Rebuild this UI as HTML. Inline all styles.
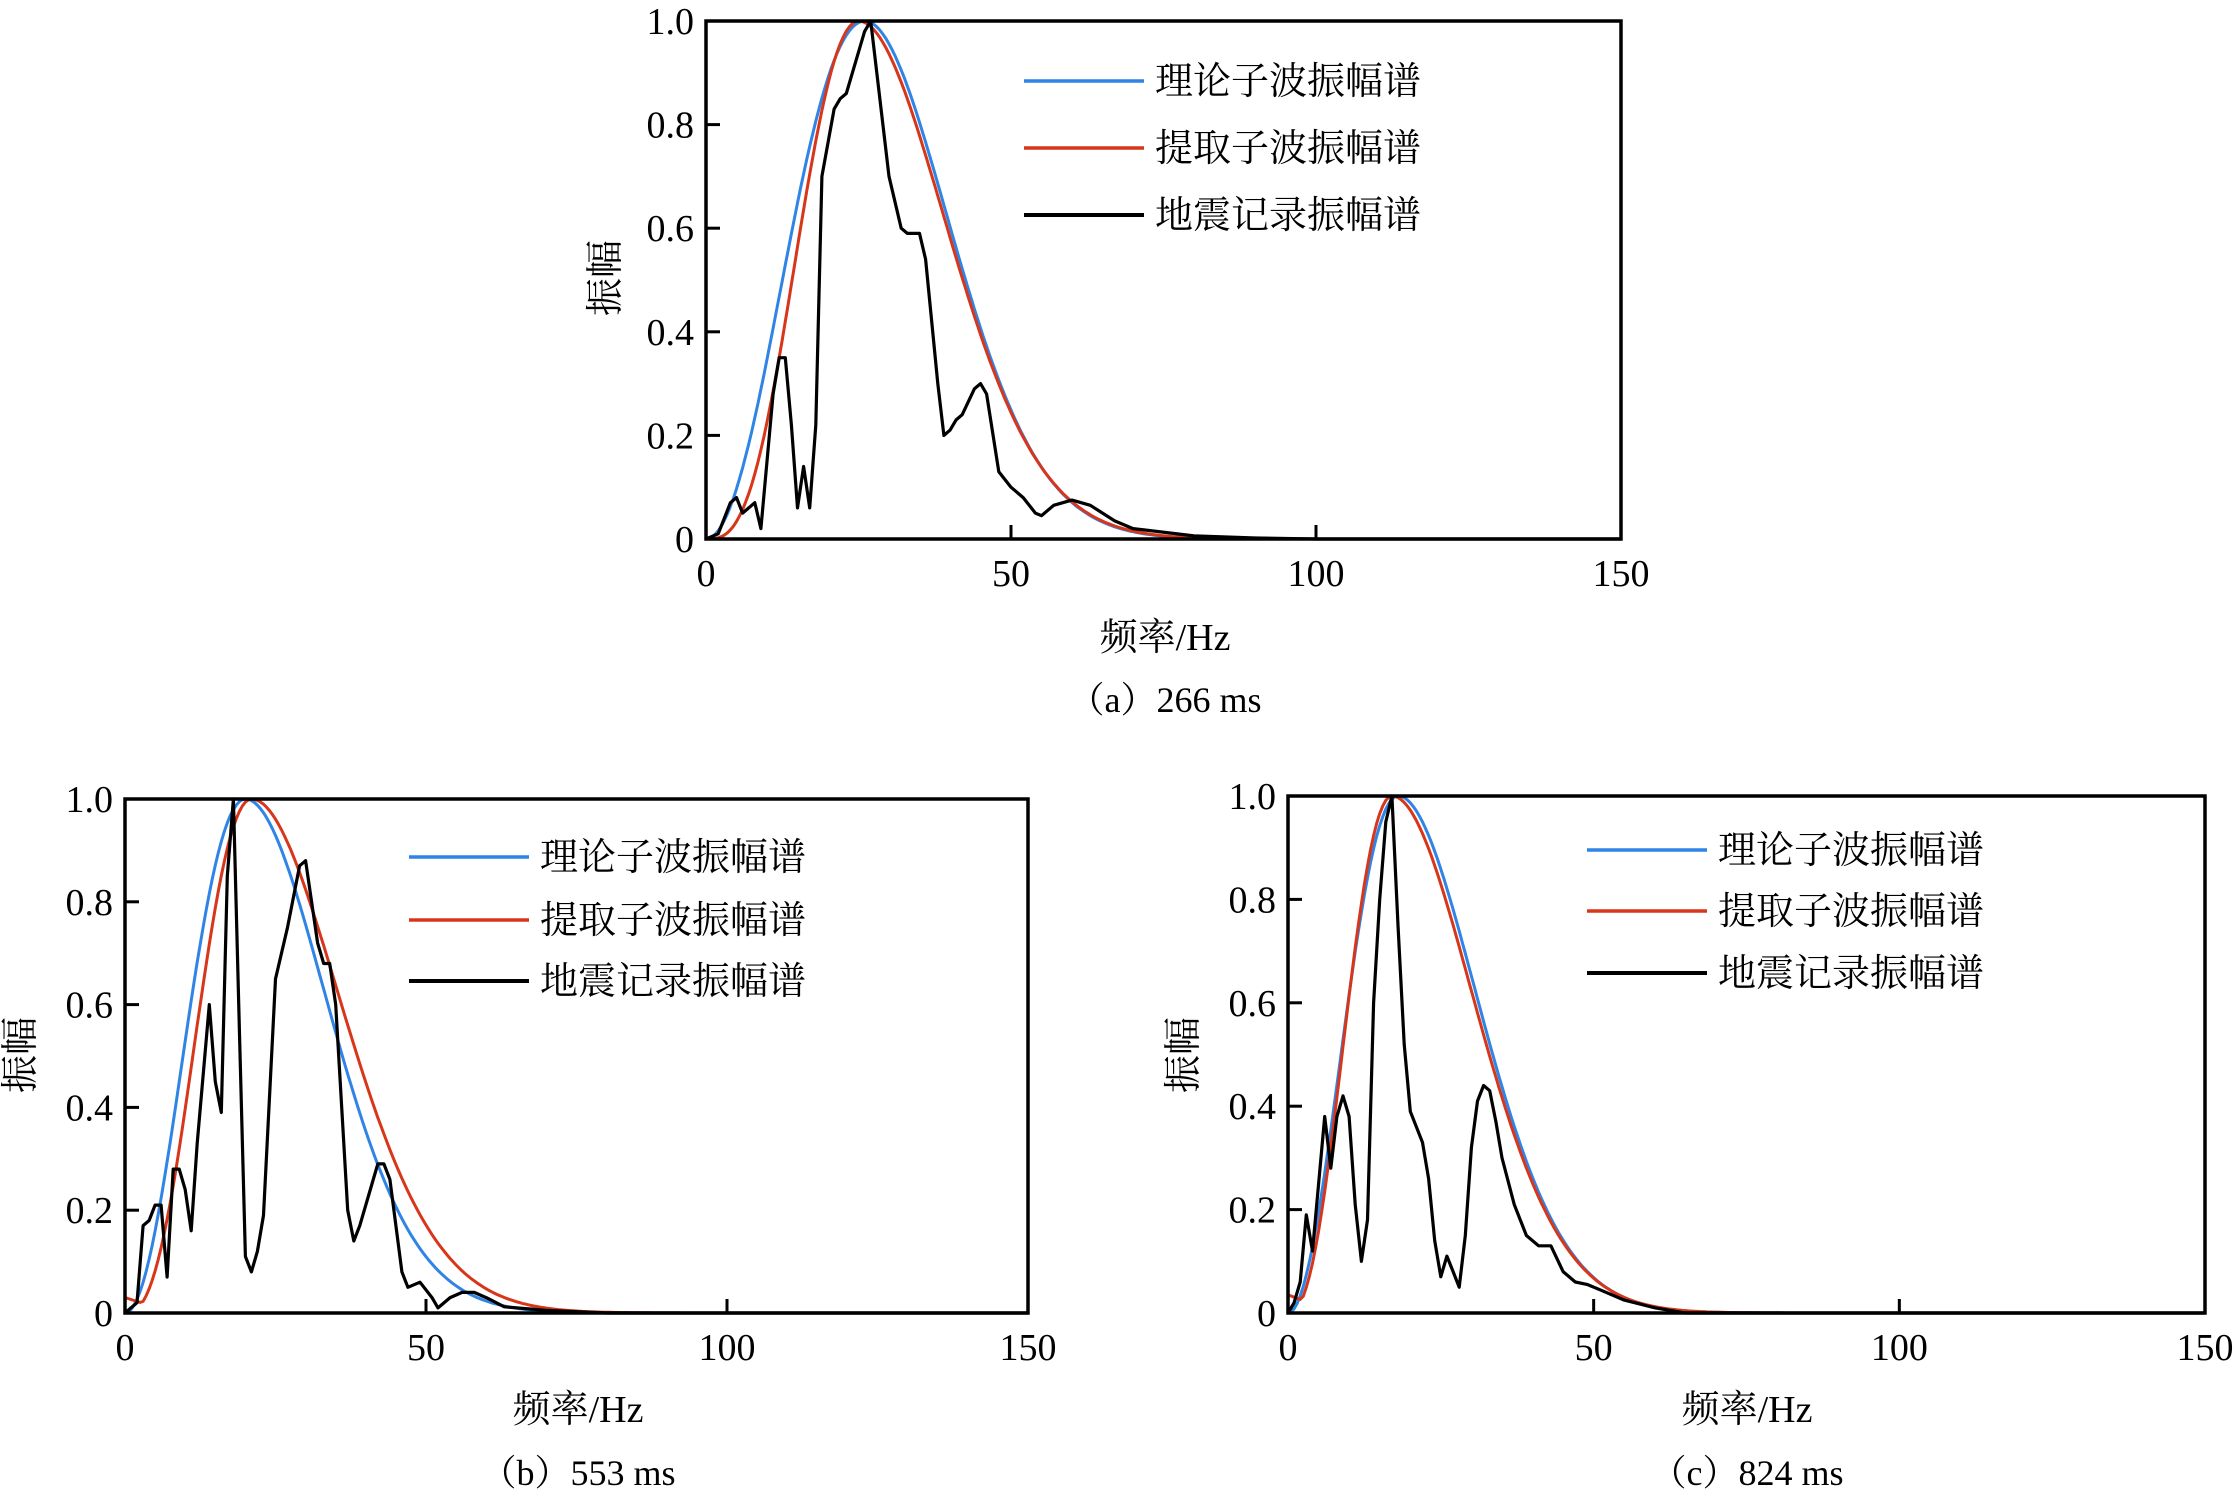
<!DOCTYPE html>
<html><head><meta charset="utf-8">
<style>
html,body{margin:0;padding:0;background:#fff;}
svg{display:block;}
text{font-family:"Liberation Serif","Noto Serif CJK SC",serif;fill:#000;}
</style></head>
<body>
<svg id="s" width="2236" height="1500" viewBox="0 0 2236 1500" xmlns="http://www.w3.org/2000/svg"></svg>
<script>
const S=document.getElementById('s');
const NS='http://www.w3.org/2000/svg';
function el(t,a,txt){const e=document.createElementNS(NS,t);for(const k in a)e.setAttribute(k,a[k]);if(txt!==undefined)e.textContent=txt;S.appendChild(e);return e;}
function ricker(f,fp){const r=(f/fp)*(f/fp);return r*Math.exp(1-r);}
function asym(fp,k,rp,off){return f=>{let v;if(f<=fp){v=rp?Math.pow(f/fp,rp)*Math.exp(rp/2*(1-(f/fp)*(f/fp))):ricker(f,fp);}else{v=ricker(fp+(f-fp)*k,fp);}return Math.max(v,off*(1-f/8));};}
function panel(P){
 const {x0,x1,y0,y1}=P;
 const X=f=>x0+(x1-x0)*f/150, Y=a=>y0-(y0-y1)*a;
 const pts=fn=>{let s='';for(let f=0;f<=150;f+=0.5){s+=X(f).toFixed(1)+','+Y(fn(f)).toFixed(1)+' ';}return s;};
 el('polyline',{points:pts(P.blue),fill:'none',stroke:'#2f84e6','stroke-width':3});
 el('polyline',{points:pts(P.red),fill:'none',stroke:'#d8361a','stroke-width':3});
 el('polyline',{points:P.blk.map(p=>X(p[0]).toFixed(1)+','+Y(p[1]).toFixed(1)).join(' '),fill:'none',stroke:'#000','stroke-width':3.2,'stroke-linejoin':'round'});
 el('rect',{x:x0,y:y1,width:x1-x0,height:y0-y1,fill:'none',stroke:'#000','stroke-width':3.5});
 for(let i=0;i<=5;i++){const y=Y(i*0.2);el('line',{x1:x0,y1:y,x2:x0+14,y2:y,stroke:'#000','stroke-width':3});
  el('text',{x:x0-12,y:y+13,'font-size':38,'text-anchor':'end'},i==0?'0':(i*0.2).toFixed(1));}
 for(let i=0;i<=3;i++){const x=X(i*50);el('line',{x1:x,y1:y0,x2:x,y2:y0-14,stroke:'#000','stroke-width':3});
  el('text',{x:x,y:y0+47,'font-size':38,'text-anchor':'middle'},String(i*50));}
 const L=P.leg, names=['理论子波振幅谱','提取子波振幅谱','地震记录振幅谱'], cols=['#2f84e6','#d8361a','#000'];
 for(let i=0;i<3;i++){el('line',{x1:L.x,y1:L.y[i],x2:L.x+120,y2:L.y[i],stroke:cols[i],'stroke-width':i==2?4:3.5});
  el('text',{x:L.x+131,y:L.y[i]+13,'font-size':38},names[i]);}
 el('text',{x:P.yl[0],y:P.yl[1],'font-size':38,'text-anchor':'middle',transform:`rotate(-90 ${P.yl[0]} ${P.yl[1]})`},'振幅');
 el('text',{x:P.cx,y:P.xly,'font-size':38,'text-anchor':'middle'},'频率/Hz');
 el('text',{x:P.cx,y:P.capy,'font-size':36,'text-anchor':'middle'},P.cap);
}
panel({x0:706,x1:1621,y0:539,y1:21,blue:asym(26,1,0,0),red:asym(25,0.93,3,0),
 blk:[[0,0],[2,0.01],[4,0.07],[5,0.08],[6,0.05],[8,0.07],[9,0.02],[11,0.28],[12,0.35],[13,0.35],[14,0.22],[15,0.06],[16,0.14],[17,0.06],[18,0.22],[19,0.7],[21,0.83],[22,0.85],[23,0.86],[24,0.9],[26,0.98],[27,1.0],[28,0.9],[30,0.7],[32,0.6],[33,0.59],[35,0.59],[36,0.54],[38,0.3],[39,0.2],[40,0.21],[41,0.23],[42,0.24],[44,0.29],[45,0.3],[46,0.28],[48,0.13],[50,0.1],[52,0.08],[54,0.05],[55,0.045],[57,0.065],[60,0.075],[63,0.065],[67,0.035],[70,0.02],[80,0.006],[90,0.002],[100,0],[150,0]],
 leg:{x:1024,y:[81,148,215]},yl:[618,278],cx:1165,xly:650,capy:712,cap:'（a）266 ms'});
panel({x0:125,x1:1028,y0:1313,y1:799,blue:asym(20,0.79,0,0),red:asym(21,0.76,2.6,0.03),
 blk:[[0,0],[2,0.02],[3,0.17],[4,0.18],[5,0.21],[6,0.21],[7,0.07],[8,0.28],[9,0.28],[10,0.24],[11,0.16],[12,0.33],[14,0.6],[15,0.45],[16,0.39],[17,0.85],[18,1.0],[19,0.55],[20,0.11],[21,0.08],[22,0.12],[23,0.19],[25,0.65],[27,0.75],[29,0.87],[30,0.88],[31,0.8],[32,0.72],[33,0.68],[34,0.68],[35,0.6],[37,0.2],[38,0.14],[39,0.17],[41,0.25],[42,0.29],[43,0.29],[44,0.26],[46,0.08],[47,0.05],[49,0.06],[51,0.03],[52,0.01],[54,0.03],[56,0.04],[58,0.04],[60,0.03],[63,0.012],[70,0.005],[80,0],[150,0]],
 leg:{x:409,y:[857,920,981]},yl:[33,1055],cx:578,xly:1422,capy:1485,cap:'（b）553 ms'});
panel({x0:1288,x1:2205,y0:1313,y1:796,blue:asym(18,0.74,0,0),red:asym(17,0.68,2.4,0.035),
 blk:[[0,0],[1,0.02],[2,0.06],[3,0.19],[4,0.12],[5,0.25],[6,0.38],[7,0.28],[8,0.38],[9,0.42],[10,0.38],[11,0.21],[12,0.1],[13,0.18],[14,0.6],[15,0.8],[16,0.95],[17,1.0],[18,0.75],[19,0.52],[20,0.39],[22,0.33],[23,0.26],[24,0.14],[25,0.07],[26,0.11],[27,0.08],[28,0.05],[29,0.15],[30,0.32],[31,0.41],[32,0.44],[33,0.43],[34,0.37],[35,0.3],[37,0.21],[39,0.15],[41,0.13],[43,0.13],[45,0.08],[47,0.06],[49,0.055],[51,0.045],[55,0.025],[60,0.01],[65,0],[150,0]],
 leg:{x:1587,y:[850,911,973]},yl:[1196,1055],cx:1747,xly:1422,capy:1485,cap:'（c）824 ms'});
</script>
</body></html>
